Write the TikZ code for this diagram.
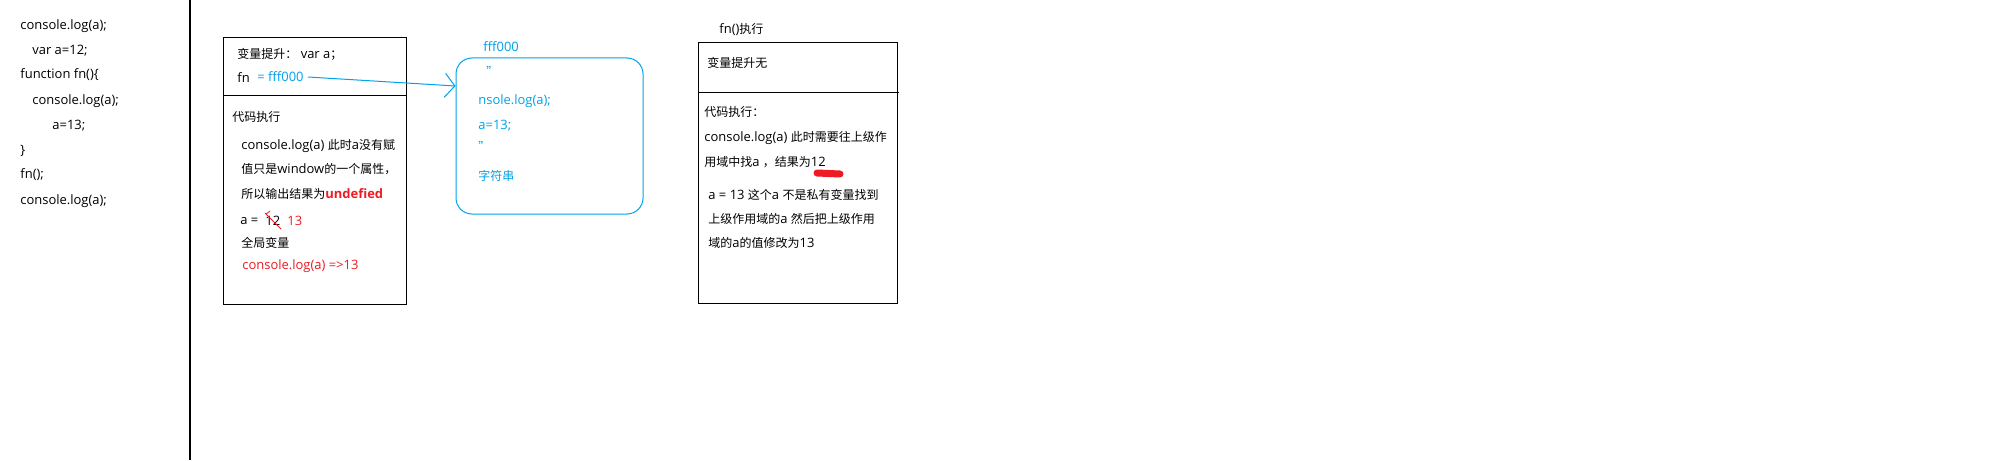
\documentclass[tikz,border=0pt]{standalone}
\usepackage{fontspec}
\setmainfont{Open Sans}[Scale=1.08]
\newfontfamily\cjkfont{Noto Sans CJK SC}
\newcommand{\zh}[1]{{\cjkfont #1}}
\usetikzlibrary{arrows.meta}

\definecolor{paintblue}{RGB}{0,162,232}
\definecolor{paintred}{RGB}{237,28,36}

\tikzset{
  txt/.style={anchor=west, inner sep=0pt, font=\fontsize{6}{7}\selectfont},
  bluetxt/.style={txt, text=paintblue},
  redtxt/.style={txt, text=paintred},
  frame/.style={draw, line width=0.5pt},
  heapbox/.style={draw=paintblue, line width=0.5pt, rounded corners=8pt,
    minimum width=93.5pt, minimum height=78pt, inner sep=0pt},
}

\begin{document}
\begin{tikzpicture}[x=0.5pt,y=-0.5pt]
    \useasboundingbox[fill=white] (0,0) rectangle (2000,460);

    % Source code on the left
    \node[txt] (code1) at (20,26) {console.log(a);};
    \node[txt] (code2) at (32,51) {var a=12;};
    \node[txt] (code3) at (20,75) {function fn()\{};
    \node[txt] (code4) at (32,101) {console.log(a);};
    \node[txt] (code5) at (52,126) {a=13;};
    \node[txt] (code6) at (20,151) {\}};
    \node[txt] (code7) at (20,175) {fn();};
    \node[txt] (code8) at (20,201) {console.log(a);};

    % Separator
    \draw[line width=0.6pt] (190,0) -- (190,460);

    % Global scope box
    \draw[frame] (223,38) rectangle (406,304);
    \draw[frame] (223,96) -- (406,96);
    \node[txt] (hoist) at (237,54) {\zh{变量提升：} var a\zh{；}};
    \node[txt] (fn) at (237,78) {fn};
    \node[bluetxt] (fnval) at (257,77) {= fff000};
    \node[txt] (exec) at (232,117) {\zh{代码执行}};
    \node[txt] (g1) at (241,146) {console.log(a) \zh{此时}a\zh{没有赋}};
    \node[txt] (g2) at (241,169) {\zh{值只是}window\zh{的一个属性，}};
    \node[txt] (g3) at (241,194) {\zh{所以输出结果为}\textcolor{paintred}{\textbf{undefied}}};
    \node[txt] (g4) at (240,221) {a =};
    \node[txt] (old) at (265,221) {12};
    \node[redtxt] (new) at (287,221) {13};
    \node[txt] (g5) at (241,243) {\zh{全局变量}};
    \node[redtxt] (g6) at (242,266) {console.log(a) =>13};

    % Strike through the old value
    \draw[paintred, line width=0.4pt] (265,213) -- (281,229);
    \draw[paintred, line width=0.4pt] (266,214) -- (270,211);

    % Heap object fff000
    \node[bluetxt] (addr) at (483,47) {fff000};
    \node[heapbox] (heap) at (549.5,136) {};
    \node[bluetxt] (q1) at (486,71) {\zh{”}};
    \node[bluetxt] (h1) at (478,101) {nsole.log(a);};
    \node[bluetxt] (h2) at (478,126) {a=13;};
    \node[bluetxt] (q2) at (478,146) {\zh{”}};
    \node[bluetxt] (h3) at (478,176) {\zh{字符串}};

    % Reference from fn to the heap
    \draw[paintblue, line width=0.5pt, -{Straight Barb[length=5pt,width=12pt]}]
        ([xshift=2pt]fnval.east) -- ([yshift=25pt]heap.west);

    % fn() scope box
    \node[txt] (call) at (719,29) {fn()\zh{执行}};
    \draw[frame] (698,43) rectangle (897,303);
    \draw[frame] (698,93) -- (899,93);
    \node[txt] (nohoist) at (707,63) {\zh{变量提升无}};
    \node[txt] (fexec) at (704,112) {\zh{代码执行：}};
    \node[txt] (f1) at (704,138) {console.log(a) \zh{此时需要往上级作}};
    \node[txt] (f2) at (704,162) {\zh{用域中找}a \zh{，结果为}12};
    \node[txt] (f3) at (708,195) {a = 13 \zh{这个}a \zh{不是私有变量找到}};
    \node[txt] (f4) at (708,219) {\zh{上级作用域的}a \zh{然后把上级作用}};
    \node[txt] (f5) at (708,243) {\zh{域的}a\zh{的值修改为}13};

    % Red mark under the result
    \draw[paintred, line width=3.5pt, line cap=round] (817,173) -- (840,174);
\end{tikzpicture}
\end{document}
